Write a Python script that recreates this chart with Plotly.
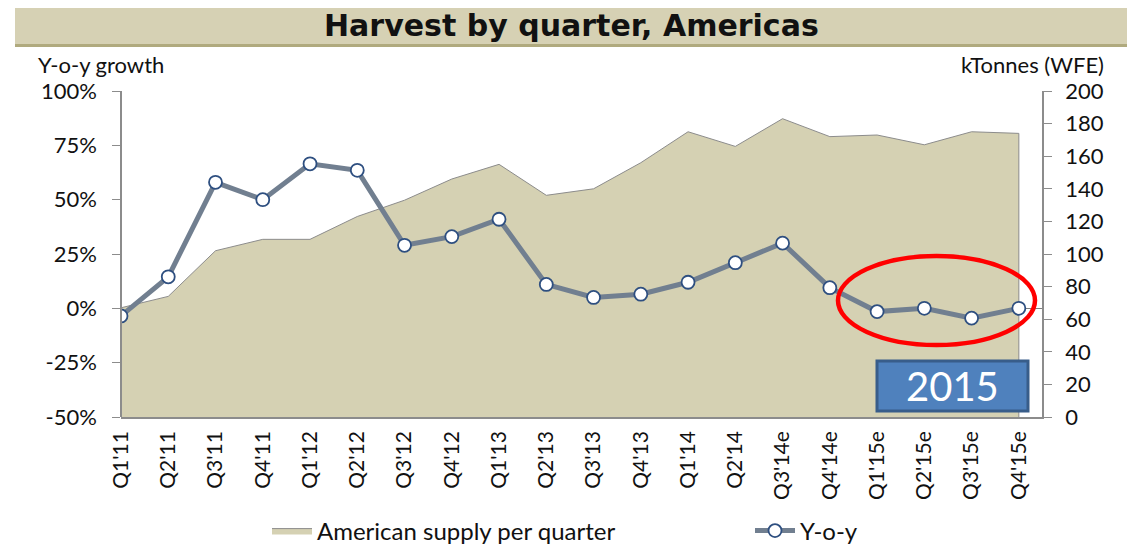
import plotly.graph_objects as go

# data
quarters = ["Q1'11", "Q2'11", "Q3'11", "Q4'11", "Q1'12", "Q2'12", "Q3'12", "Q4'12",
            "Q1'13", "Q2'13", "Q3'13", "Q4'13", "Q1'14", "Q2'14", "Q3'14e", "Q4'14e",
            "Q1'15e", "Q2'15e", "Q3'15e", "Q4'15e"]
supply_kt = [67, 74, 102, 109, 109, 123, 133, 146, 155, 136,
             140, 156, 175, 166, 183, 172, 173, 167, 175, 174]
yoy_pct = [-3.5, 14.5, 58, 50, 66.5, 63.5, 29, 33, 41, 11,
           5, 6.5, 12, 21, 30, 9.5, -1.5, 0, -4.5, 0]

pct_ticks = [-50, -25, 0, 25, 50, 75, 100]
kt_ticks = [0, 20, 40, 60, 80, 100, 120, 140, 160, 180, 200]
pct_range = [-50, 100]
kt_range = [0, 200]

# window & plot-area geometry (pixels, as seen in the reference)
W_PX, H_PX = 1135, 549
OFF = 8  # the page body margin shifts the figure by this much
L, R, T, B = 121, 1042, 91, 417

FONT = "Lato"
TXT = "#111111"
AXIS = "#8C8C8C"
AREA = "#D5D1B3"
LINE = "#717F90"
MARK_EDGE = "#2E4F80"


def px(x):
    return (x - L) / (R - L)


def py(y):
    return (B - y) / (B - T)


x = list(range(len(quarters)))
x_range = [0, len(quarters) - 1 + 0.49]
zero_pos = (0 - pct_range[0]) / (pct_range[1] - pct_range[0])

fig = go.Figure()

# supply area on the primary (kt) axis
fig.add_trace(go.Scatter(
    x=x, y=supply_kt, name="American supply per quarter",
    mode="lines", fill="tozeroy", fillcolor=AREA,
    line=dict(color=AXIS, width=1), legend="legend",
))
# close the right edge of the area down to the base
fig.add_trace(go.Scatter(
    x=[x[-1], x[-1]], y=[0, supply_kt[-1]],
    mode="lines", line=dict(color=AXIS, width=1),
    showlegend=False, hoverinfo="skip",
))
# y-o-y growth on the overlaid (percent) axes, drawn on top of the area
fig.add_trace(go.Scatter(
    x=x, y=yoy_pct, name="Y-o-y", mode="lines+markers",
    xaxis="x2", yaxis="y2", legend="legend2",
    line=dict(color=LINE, width=5),
    marker=dict(symbol="circle", size=13, color="white",
                line=dict(color=MARK_EDGE, width=1.8)),
))

fig.update_layout(
    width=W_PX - OFF, height=H_PX - OFF,
    margin=dict(l=L - OFF, r=W_PX - R, t=T - OFF, b=H_PX - B, pad=0, autoexpand=False),
    paper_bgcolor="white", plot_bgcolor="white",
    font=dict(family=FONT, size=21, color=TXT),
    showlegend=True,
    legend=dict(orientation="h", x=px(267), xanchor="left", y=py(531), yanchor="middle",
                font=dict(size=24, family=FONT, color=TXT), itemwidth=40,
                bgcolor="rgba(0,0,0,0)"),
    legend2=dict(orientation="h", x=px(750), xanchor="left", y=py(531), yanchor="middle",
                 font=dict(size=24, family=FONT, color=TXT), itemwidth=40,
                 bgcolor="rgba(0,0,0,0)"),
    xaxis=dict(
        range=x_range, tickvals=x, ticktext=quarters, tickangle=-90,
        showgrid=False, zeroline=False, showline=True, linecolor=AXIS, linewidth=1.5,
        ticks="", tickfont=dict(size=21, family=FONT, color=TXT),
        ticklabelstandoff=4, automargin=False,
    ),
    yaxis=dict(
        range=kt_range, tickvals=kt_ticks, side="right",
        showgrid=False, zeroline=False, showline=True, linecolor=AXIS, linewidth=1.5,
        ticks="outside", ticklen=8, tickcolor=AXIS,
        tickfont=dict(size=22, family=FONT, color=TXT), ticklabelstandoff=9,
        automargin=False,
    ),
    xaxis2=dict(
        range=x_range, overlaying="x", anchor="free", position=zero_pos,
        tickvals=x, showticklabels=False, ticks="outside", ticklen=7, tickcolor=AXIS,
        showline=True, linecolor="#7F7F7F", linewidth=1.3, showgrid=False, zeroline=False,
        automargin=False, layer="below traces",
    ),
    yaxis2=dict(
        range=pct_range, tickvals=pct_ticks, ticktext=[f"{v}%" for v in pct_ticks],
        overlaying="y", side="left", anchor="free", position=0,
        showgrid=False, zeroline=False, showline=True, linecolor=AXIS, linewidth=1.5,
        ticks="outside", ticklen=8, tickcolor=AXIS,
        tickfont=dict(size=22, family=FONT, color=TXT), ticklabelstandoff=11,
        automargin=False,
    ),
)

# title banner
fig.add_shape(type="rect", xref="paper", yref="paper",
              x0=px(15), x1=px(1140), y0=py(46), y1=py(4),
              fillcolor="#D6D1B4", line=dict(width=0), layer="below")
for yy in (4.5, 45.5):
    fig.add_shape(type="line", xref="paper", yref="paper",
                  x0=px(15), x1=px(1140), y0=py(yy), y1=py(yy),
                  line=dict(color="#B0AA7E", width=3))
fig.add_annotation(text="<b>Harvest by quarter, Americas</b>", xref="paper", yref="paper",
                   x=px(571), y=py(25), xanchor="center", yanchor="middle", showarrow=False,
                   font=dict(family="DejaVu Sans", size=30, color=TXT))

# axis titles
fig.add_annotation(text="Y-o-y growth", xref="paper", yref="paper", x=px(36), y=py(64),
                   xanchor="left", yanchor="middle", showarrow=False,
                   font=dict(family=FONT, size=22, color=TXT))
fig.add_annotation(text="kTonnes (WFE)", xref="paper", yref="paper", x=px(1106), y=py(64),
                   xanchor="right", yanchor="middle", showarrow=False,
                   font=dict(family=FONT, size=22, color=TXT))

# 2015 highlight
fig.add_shape(type="circle", xref="paper", yref="paper",
              x0=px(838), x1=px(1035), y0=py(345), y1=py(256),
              line=dict(color="#FF0000", width=4.5))
fig.add_shape(type="rect", xref="paper", yref="paper",
              x0=px(877), x1=px(1028), y0=py(411), y1=py(361),
              fillcolor="#4F81BD", line=dict(color="#385D8A", width=3))
fig.add_annotation(text="2015", xref="paper", yref="paper", x=px(952), y=py(386),
                   xanchor="center", yanchor="middle", showarrow=False,
                   font=dict(family=FONT, size=40, color="white"))

fig.write_html("out.html")
